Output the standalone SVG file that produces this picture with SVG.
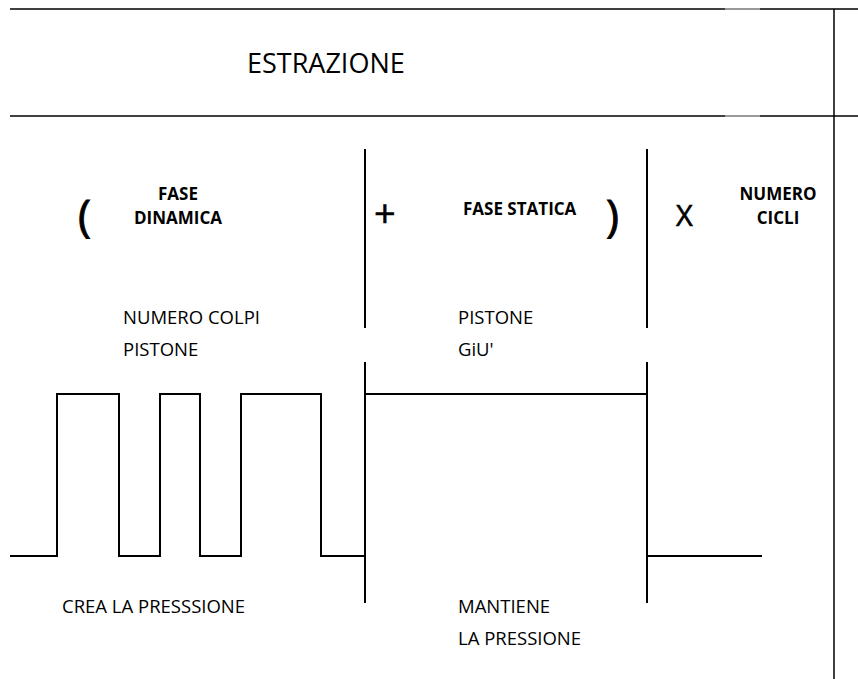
<svg xmlns="http://www.w3.org/2000/svg" width="858" height="679" viewBox="0 0 858 679">
<style>
text{font-family:"Open Sans","Liberation Sans",sans-serif;fill:#000}
.r{font-size:18.5px}
.b{font-size:17px;font-weight:bold}
.big{font-size:44px;stroke:#000;stroke-width:0.9}
.sym{stroke:#000;stroke-width:0.6}
.ln{stroke:#000;stroke-width:2;fill:none}
.th{stroke:#000;stroke-width:1.5;fill:none}
.gr{stroke:#999;stroke-width:2;fill:none}
</style>
<g id="header">
<line class="th" x1="10" y1="9" x2="725" y2="9"/>
<line class="gr" x1="725" y1="9" x2="760" y2="9"/>
<line class="th" x1="760" y1="9" x2="858" y2="9"/>
<line class="th" x1="10" y1="116" x2="725" y2="116"/>
<line class="gr" x1="725" y1="116" x2="760" y2="116"/>
<line class="th" x1="760" y1="116" x2="858" y2="116"/>
<line class="th" x1="834" y1="9" x2="834" y2="679"/>
<text x="247" y="73" font-size="27">ESTRAZIONE</text>
</g>
<g id="formula">
<text class="big" x="78" y="231">(</text>
<text class="b" x="178" y="200" text-anchor="middle">FASE</text>
<text class="b" x="178" y="224" text-anchor="middle">DINAMICA</text>
<text class="sym" x="374" y="227" font-size="38">+</text>
<text class="b" x="463" y="215">FASE STATICA</text>
<text class="big" x="606" y="231">)</text>
<text class="sym" x="676" y="226" font-size="29">X</text>
<text class="b" x="778" y="200" text-anchor="middle">NUMERO</text>
<text class="b" x="778" y="224" text-anchor="middle">CICLI</text>
</g>
<g id="dividers">
<line class="ln" x1="365" y1="149" x2="365" y2="328"/>
<line class="ln" x1="365" y1="362" x2="365" y2="603"/>
<line class="ln" x1="647" y1="149" x2="647" y2="328"/>
<line class="ln" x1="647" y1="362" x2="647" y2="603"/>
</g>
<g id="labels">
<text class="r" x="123" y="324">NUMERO COLPI</text>
<text class="r" x="123" y="356">PISTONE</text>
<text class="r" x="458" y="324">PISTONE</text>
<text class="r" x="458" y="356">GiU'</text>
<text class="r" x="62" y="613">CREA LA PRESSSIONE</text>
<text class="r" x="458" y="613">MANTIENE</text>
<text class="r" x="458" y="645">LA PRESSIONE</text>
</g>
<g id="waveform">
<polyline class="ln" points="10,556 57,556 57,394 119,394 119,556 160,556 160,394 200,394 200,556 241,556 241,394 321,394 321,556 365,556"/>
<line class="ln" x1="365" y1="394" x2="647" y2="394"/>
<line class="ln" x1="647" y1="556" x2="762" y2="556"/>
</g>
</svg>
